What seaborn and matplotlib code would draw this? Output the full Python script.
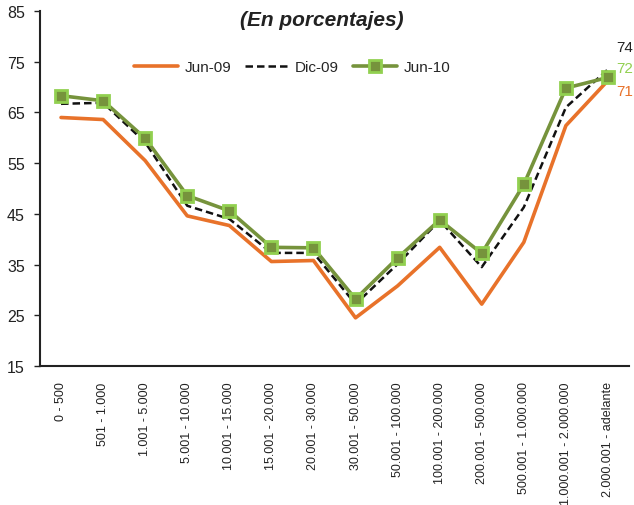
import matplotlib
matplotlib.use("Agg")
import matplotlib.pyplot as plt
import seaborn as sns
import pandas as pd
import numpy as np

categories = ["0 - 500", "501 - 1.000", "1.001 - 5.000", "5.001 - 10.000",
              "10.001 - 15.000", "15.001 - 20.000", "20.001 - 30.000",
              "30.001 - 50.000", "50.001 - 100.000", "100.001 - 200.000",
              "200.001 - 500.000", "500.001 - 1.000.000",
              "1.000.001 - 2.000.000", "2.000.001 - adelante"]
jun09 = [64.0, 63.6, 55.5, 44.6, 42.7, 35.6, 35.8, 24.5, 30.8, 38.4, 27.2, 39.4, 62.4, 71.3]
dic09 = [66.7, 66.9, 59.1, 46.6, 44.0, 37.3, 37.3, 27.2, 35.1, 43.7, 34.5, 46.3, 66.0, 73.5]
jun10 = [68.3, 67.3, 59.9, 48.6, 45.6, 38.4, 38.3, 28.2, 36.3, 43.8, 37.2, 50.8, 69.8, 71.9]
end_labels = ["74", "72", "71"]
yticks = [15, 25, 35, 45, 55, 65, 75, 85]

sns.set_style("white")
plt.rcParams['font.family'] = ['Liberation Sans', 'DejaVu Sans']

idx = np.arange(len(categories))
df = pd.DataFrame({
    "x": np.concatenate([idx, idx, idx]),
    "v": jun09 + dic09 + jun10,
    "s": ["Jun-09"] * len(idx) + ["Dic-09"] * len(idx) + ["Jun-10"] * len(idx),
})

fig = plt.figure(figsize=(6.34, 5.06), dpi=100)
ax = fig.add_axes([40/634, 1-367/506, (629-40)/634, (367-12)/506])

ORANGE = "#E8722A"
GREEN = "#76933C"
LGREEN = "#92D050"

sns.lineplot(data=df[df.s == "Jun-09"], x="x", y="v", ax=ax, color=ORANGE, lw=2.6, label="Jun-09")
sns.lineplot(data=df[df.s == "Dic-09"], x="x", y="v", ax=ax, color="#111111", lw=1.8,
             linestyle=(0, (3, 1.6)), label="Dic-09")
sns.lineplot(data=df[df.s == "Jun-10"], x="x", y="v", ax=ax, color=GREEN, lw=2.6,
             marker="s", markersize=8, markerfacecolor=GREEN, markeredgecolor=LGREEN,
             markeredgewidth=2, label="Jun-10")

ax.set_xlim(-0.5, len(categories) - 0.5)
ax.set_ylim(15, 85)
ax.set_yticks(yticks)
ax.set_yticklabels([str(t) for t in yticks], fontsize=11.5, color="#222222")
ax.set_xticks(idx)
ax.set_xticklabels(categories, rotation=90, fontsize=9, color="#222222")
ax.set_xticks(np.arange(-0.5, len(categories), 1.0), minor=True)
ax.tick_params(axis="x", which="major", length=0, pad=11)
ax.tick_params(axis="x", which="minor", length=4, width=1, direction="out", color="#222222")
ax.tick_params(axis="y", which="major", length=4, width=1, direction="out", color="#222222",
               left=True, pad=7)
ax.set_xlabel("")
ax.set_ylabel("")
for s in ["top", "right"]:
    ax.spines[s].set_visible(False)
for s in ["left", "bottom"]:
    ax.spines[s].set_color("#222222")
    ax.spines[s].set_linewidth(1.5)

ax.legend(loc="center", bbox_to_anchor=((292-40)/589, 1-(68-12)/355), ncol=3, frameon=False,
          fontsize=11, handlelength=2.9, columnspacing=0.9, handletextpad=0.4)

fig.text(322/634, 1-20/506, "(En porcentajes)", ha="center", va="center",
         fontsize=15, fontweight="bold", fontstyle="italic", color="#222222")

last = len(categories) - 1
for lab, val, col in zip(end_labels, [77.9, 73.8, 69.2], ["#222222", LGREEN, ORANGE]):
    ax.text(last + 0.2, val, lab, color=col, fontsize=11, va="center", ha="left", clip_on=False)

fig.savefig("out.png", dpi=100)
